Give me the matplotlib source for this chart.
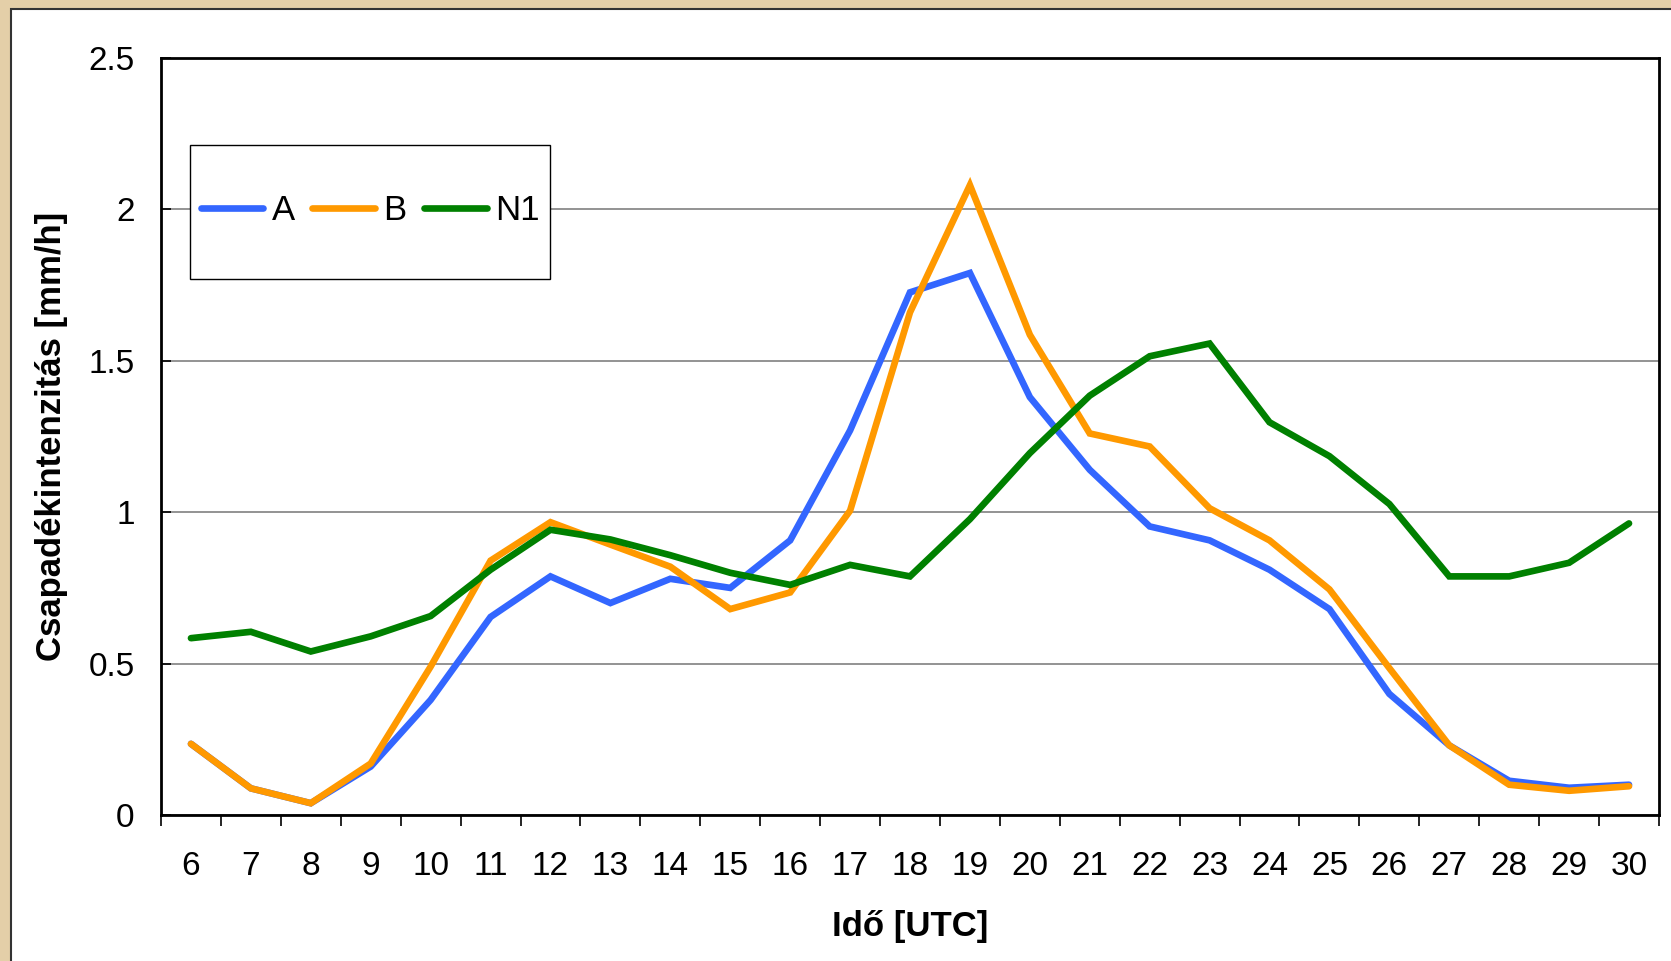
import matplotlib
matplotlib.use("Agg")
import matplotlib.pyplot as plt
from matplotlib.patches import Rectangle

plt.rcParams['font.family'] = ['Liberation Sans', 'DejaVu Sans']

hours = ['6', '7', '8', '9', '10', '11', '12', '13', '14', '15', '16', '17',
         '18', '19', '20', '21', '22', '23', '24', '25', '26', '27', '28', '29', '30']
series_a = [0.235, 0.088, 0.039, 0.16, 0.38, 0.654, 0.788, 0.70, 0.78, 0.75, 0.907, 1.27,
            1.726, 1.79, 1.38, 1.14, 0.953, 0.907, 0.81, 0.68, 0.40, 0.23, 0.113, 0.09, 0.10]
series_b = [0.235, 0.088, 0.039, 0.17, 0.49, 0.84, 0.967, 0.893, 0.82, 0.68, 0.735, 1.005,
            1.66, 2.08, 1.586, 1.26, 1.217, 1.013, 0.907, 0.745, 0.485, 0.23, 0.10, 0.08, 0.095]
series_n1 = [0.584, 0.605, 0.54, 0.59, 0.657, 0.81, 0.942, 0.91, 0.858, 0.80, 0.76, 0.826,
             0.788, 0.977, 1.195, 1.385, 1.515, 1.557, 1.297, 1.185, 1.027, 0.788, 0.788, 0.833, 0.963]

names = ['A', 'B', 'N1']
colors = ['#3366FF', '#FF9900', '#008000']

W, H = 1671, 961
fig = plt.figure(figsize=(W / 100, H / 100), dpi=100, facecolor='#e4cfa8')

# white chart area with dark outline on the left and top
fig.patches.append(Rectangle((11 / W, -0.05), 1.1, 1 - 9 / H + 0.05,
                             transform=fig.transFigure, facecolor='white',
                             edgecolor='#333333', linewidth=1.5, zorder=-10))

ax = fig.add_axes([161 / W, 1 - 815 / H, 1498 / W, 757 / H])
ax.set_facecolor('white')

x = list(range(len(hours)))
for vals, name, c in zip([series_a, series_b, series_n1], names, colors):
    ax.plot(x, vals, color=c, lw=4.8, label=name, solid_capstyle='round',
            solid_joinstyle='miter', zorder=3)

ax.set_xlim(-0.5, len(hours) - 0.5)
ax.set_ylim(0, 2.5)
ax.set_yticks([0, 0.5, 1, 1.5, 2, 2.5])
ax.set_yticklabels(['0', '0.5', '1', '1.5', '2', '2.5'])
ax.set_xticks(x)
ax.set_xticklabels(hours)
ax.set_xticks([i - 0.5 for i in range(len(hours) + 1)], minor=True)
ax.tick_params(axis='x', which='major', length=0, pad=26, labelsize=24)
ax.tick_params(axis='x', which='minor', length=8, width=1.2, direction='out', color='black')
ax.tick_params(axis='y', which='major', length=7, width=1.2, direction='in', pad=19,
               labelsize=24, color='black')

ax.grid(axis='y', color='#808080', lw=1.2, zorder=1)
ax.set_axisbelow(True)
for s in ax.spines.values():
    s.set_color('black')
    s.set_linewidth(2)

ax.set_xlabel('Idő [UTC]', fontsize=25, fontweight='bold', labelpad=20)
ax.set_ylabel('Csapadékintenzitás [mm/h]', fontsize=25, fontweight='bold')
ax.yaxis.set_label_coords(-0.062, 0.5)

# legend frame and entries
ax.add_patch(Rectangle((0.0194, 0.708), 0.2406, 0.177, transform=ax.transAxes,
                       facecolor='white', edgecolor='black', lw=1.0, zorder=4))
leg = ax.legend(loc='center', bbox_to_anchor=(0.1397, 0.798), ncol=3, frameon=False,
                fontsize=25, handlelength=1.8, handletextpad=0.25, columnspacing=0.5)
leg.set_zorder(5)

fig.savefig('out.png', dpi=100, facecolor=fig.get_facecolor())
